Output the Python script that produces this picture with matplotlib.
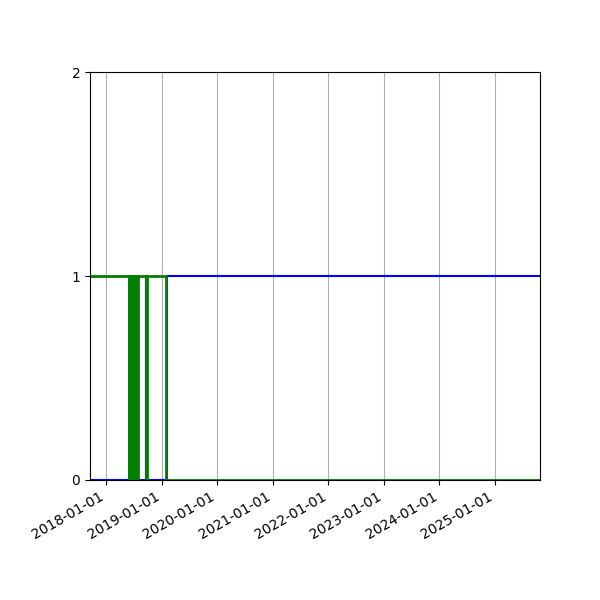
import pandas as pd
import matplotlib
matplotlib.use('Agg')
import matplotlib.pyplot as plt
import matplotlib.dates as mdates

# blue: mostly off, short spikes, then on for good
blue_dates = ['2017-09-18', '2018-06-13', '2018-06-14', '2018-07-13', '2018-07-14',
              '2018-09-21', '2018-09-22', '2019-02-06', '2025-10-23']
blue_vals = [0, 1, 0, 1, 0, 1, 0, 1, 1]

# green: on, flickering in summer 2018, then off
green_dates = ['2017-09-18', '2018-06-01', '2018-06-04', '2018-06-07', '2018-06-10',
               '2018-06-13', '2018-06-16', '2018-06-19', '2018-06-22', '2018-06-25',
               '2018-06-28', '2018-07-01', '2018-07-04', '2018-07-07', '2018-07-10',
               '2018-07-13', '2018-07-16', '2018-07-19', '2018-07-22', '2018-07-25',
               '2018-07-28', '2018-09-22', '2018-09-28', '2019-01-31', '2025-10-23']
green_vals = [1, 0, 1, 0, 1, 0, 1, 0, 1, 0, 1, 0, 1, 0, 1, 0, 1, 0, 1, 0, 1,
              0, 1, 0, 0]

blue = pd.Series(blue_vals, index=pd.to_datetime(blue_dates))
green = pd.Series(green_vals, index=pd.to_datetime(green_dates))

fig, ax = plt.subplots(figsize=(6, 6), dpi=100)
ax.step(blue.index, blue.values, where='post', color='blue', linewidth=1.5)
ax.step(green.index, green.values, where='post', color='green', linewidth=2)

ax.set_xlim(pd.Timestamp('2017-09-18'), pd.Timestamp('2025-10-23'))
ax.set_ylim(0, 2)
ax.set_yticks([0, 1, 2])
ax.xaxis.set_major_locator(mdates.YearLocator())
ax.xaxis.set_major_formatter(mdates.DateFormatter('%Y-%m-%d'))
ax.grid(True, axis='x')
fig.autofmt_xdate()
fig.subplots_adjust(left=0.15, right=0.9, top=0.88, bottom=0.2)
fig.savefig('out.png')
